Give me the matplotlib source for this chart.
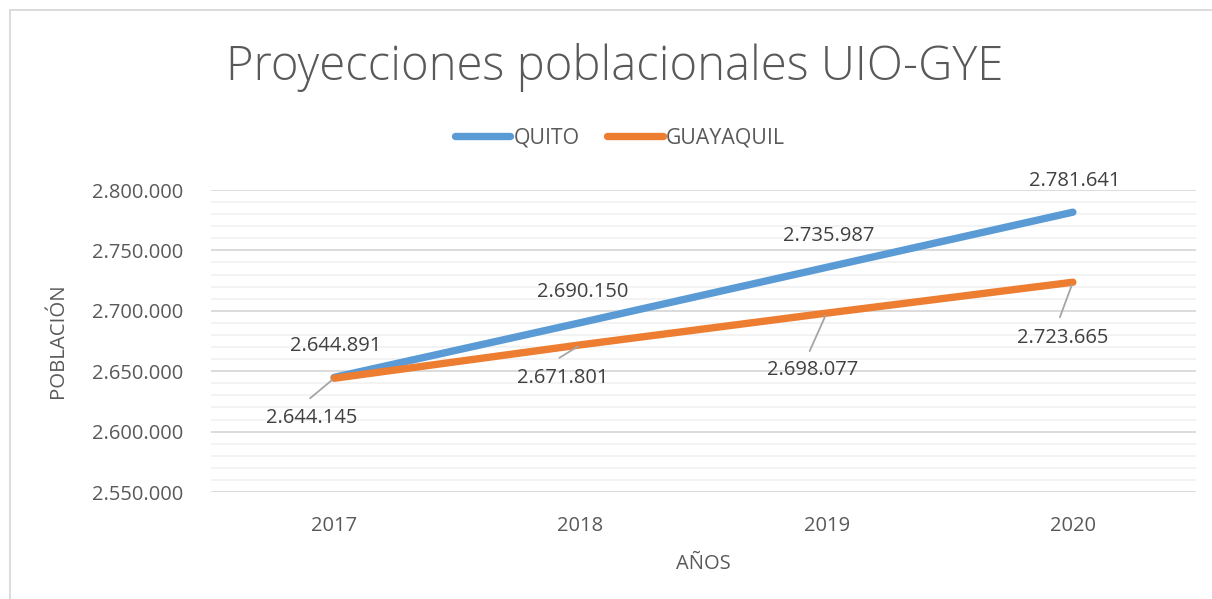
import matplotlib.pyplot as plt
import matplotlib.patches as mpatches
from matplotlib.ticker import MultipleLocator, FuncFormatter

plt.rcParams['font.family'] = ['Open Sans', 'DejaVu Sans']

years = ["2017", "2018", "2019", "2020"]
quito = [2644891, 2690150, 2735987, 2781641]
guayaquil = [2644145, 2671801, 2698077, 2723665]

blue = "#5B9BD5"
orange = "#ED7D31"
txt = "#595959"
lbl = "#404040"

fig = plt.figure(figsize=(12.12, 5.99), dpi=100)
ax = fig.add_axes([211 / 1212, 1 - 492 / 599, (1196 - 211) / 1212, (492 - 190) / 599])

x = list(range(len(years)))
ax.plot(x, quito, color=blue, lw=5.3, solid_capstyle="round", label="QUITO", zorder=3)
ax.plot(x, guayaquil, color=orange, lw=5.3, solid_capstyle="round", label="GUAYAQUIL", zorder=4)

ax.set_xlim(-0.5, 3.5)
ax.set_ylim(2550000, 2800000)
ax.yaxis.set_major_locator(MultipleLocator(50000))
ax.yaxis.set_minor_locator(MultipleLocator(10000))
ax.yaxis.set_major_formatter(FuncFormatter(lambda v, p: f"{int(v):,}".replace(",", ".")))
ax.set_xticks(x)
ax.set_xticklabels(years)
ax.grid(True, which="major", axis="y", color="#D9D9D9", lw=1.3, zorder=0)
ax.grid(True, which="minor", axis="y", color="#F2F2F2", lw=1.3, zorder=0)
ax.set_axisbelow(True)
for s in ax.spines.values():
    s.set_visible(False)
ax.tick_params(axis="both", which="both", length=0, colors=txt, labelsize=14.5)
ax.tick_params(axis="y", pad=20)
ax.tick_params(axis="x", pad=17)

ax.set_xlabel("AÑOS", color=txt, fontsize=14.5, labelpad=13)
ax.set_ylabel("POBLACIÓN", color=txt, fontsize=14.7, labelpad=17)

def fmt(v):
    return f"{v:,}".replace(",", ".")

# data labels
for i, v in enumerate(quito):
    ax.annotate(fmt(v), (i, v), xytext=(2, 31), textcoords="offset pixels",
                ha="center", va="center", color=lbl, fontsize=14.5, zorder=6)

g_label_off = [(-22, -40), (-18, -33), (-14, -57), (-10, -56)]
g_line_off = [(-24, -20), (-21, -13), (-17, -38), (-13, -35)]
for i, v in enumerate(guayaquil):
    ax.annotate("", (i, v), xytext=g_line_off[i], textcoords="offset pixels",
                arrowprops=dict(arrowstyle="-", color="#A5A5A5", lw=1.3, shrinkA=0, shrinkB=2), zorder=5)
    ax.annotate(fmt(v), (i, v), xytext=g_label_off[i], textcoords="offset pixels",
                ha="center", va="center", color=lbl, fontsize=14.5, zorder=6)

fig.suptitle("Proyecciones poblacionales UIO-GYE", x=615 / 1212, y=1 - 67 / 599, va="center",
             fontsize=34, color=txt, fontweight="light")

fig.legend(loc="center", bbox_to_anchor=(620 / 1212, 1 - 138 / 599), ncol=2, frameon=False,
           fontsize=15.3, labelcolor=txt, handlelength=2.6, handletextpad=0.15, columnspacing=1.3)

fig.patches.append(mpatches.Rectangle((10 / 1212, -0.1), 1.2, 1 - 10 / 599 + 0.1, transform=fig.transFigure,
                                      fill=False, edgecolor="#D9D9D9", lw=1.3, clip_on=False))

fig.savefig("out.png", dpi=100)
